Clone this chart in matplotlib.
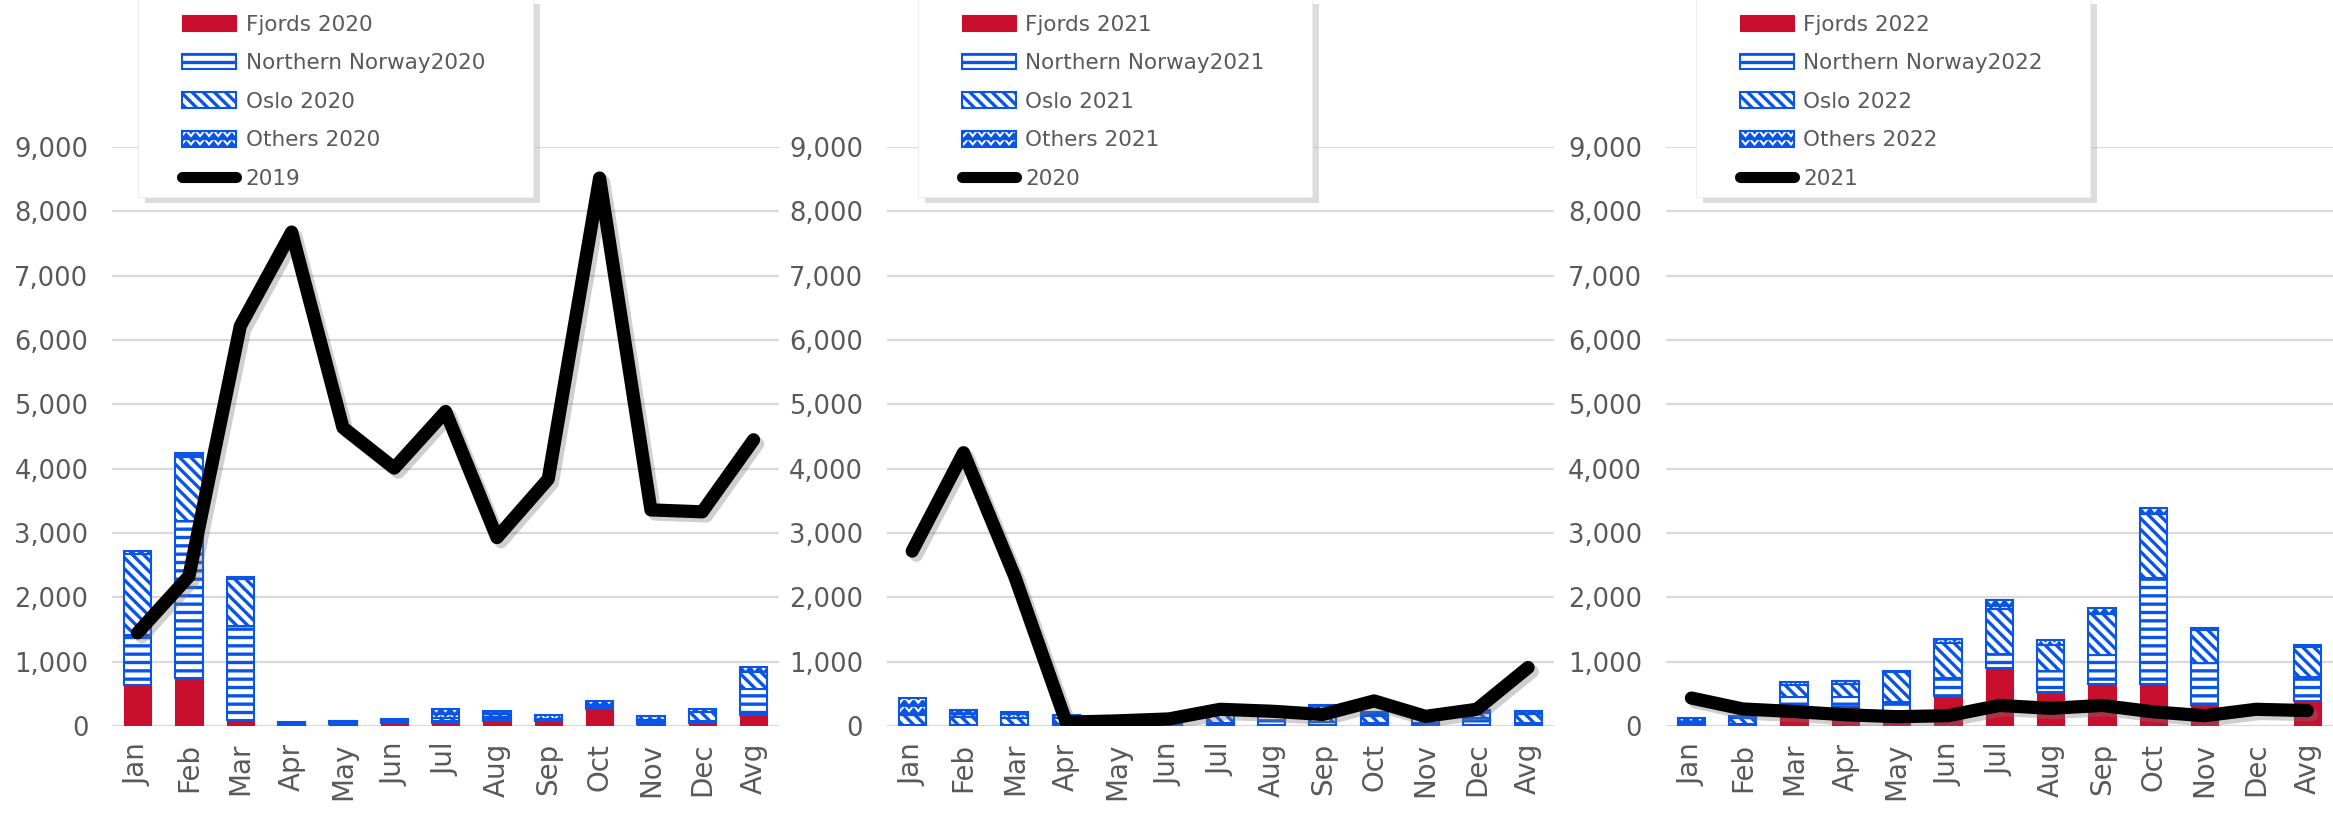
import warnings
warnings.filterwarnings("ignore")
import numpy as np
import matplotlib
matplotlib.use("Agg")
import matplotlib.pyplot as plt
import matplotlib.hatch as mhatch
from matplotlib.path import Path
from matplotlib.patches import Rectangle, Patch
from matplotlib.lines import Line2D
import matplotlib.patheffects as pe

months = ['Jan', 'Feb', 'Mar', 'Apr', 'May', 'Jun', 'Jul', 'Aug', 'Sep', 'Oct', 'Nov', 'Dec', 'Avg']

# Panel 1: bars 2020, line 2019
fjords_2020 = [630, 744, 100, 5, 30, 40, 40, 83, 72, 269, 31, 52, 176]
nn_2020 = [790, 2445, 1460, 10, 20, 30, 40, 30, 20, 30, 30, 30, 403]
oslo_2020 = [1255, 1000, 720, 10, 20, 20, 40, 20, 20, 20, 30, 130, 258]
others_2020 = [50, 60, 40, 35, 13, 24, 138, 94, 64, 74, 59, 46, 78]
line_2019 = [1450, 2330, 6220, 7680, 4640, 4010, 4890, 2930, 3840, 8520, 3360, 3330, 4450]

# Panel 2: bars 2021, line 2020
fjords_2021 = [5, 5, 5, 5, 10, 10, 10, 10, 15, 20, 15, 10, 10]
nn_2021 = [10, 10, 10, 20, 20, 20, 30, 150, 40, 30, 30, 120, 40]
oslo_2021 = [160, 120, 110, 100, 60, 70, 150, 40, 120, 100, 80, 80, 130]
others_2021 = [265, 109, 93, 46, 30, 30, 126, 90, 145, 73, 45, 34, 60]
line_2020 = [2720, 4250, 2320, 60, 80, 110, 260, 230, 180, 390, 150, 260, 910]

# Panel 3: bars 2022, line 2021
fjords_2022 = [0, 15, 290, 300, 210, 466, 900, 528, 657, 657, 321, 0, 383]
nn_2022 = [20, 15, 160, 150, 160, 279, 223, 320, 440, 1645, 662, 0, 377]
oslo_2022 = [20, 100, 190, 210, 470, 548, 698, 419, 646, 993, 502, 0, 466]
others_2022 = [84, 20, 40, 38, 14, 62, 145, 63, 88, 93, 36, 0, 41]
line_2021 = [435, 265, 225, 175, 145, 160, 320, 275, 320, 220, 160, 260, 240]

RED = '#C8102E'
BLUE = '#0A55E6'
TXT = '#595959'
GRID = '#D9D9D9'


class ZigzagHatch(mhatch.HatchPatternBase):
    def __init__(self, hatch, density):
        self.num_rows = int(hatch.count('z') * density)
        self.teeth = 11
        self.n = 2 * self.teeth + 1
        self.num_vertices = self.num_rows * self.n

    def set_vertices_and_codes(self, vertices, codes):
        n = self.n
        xs = np.linspace(0, 1, n)
        step = 1.0 / self.num_rows
        amp = step * 0.33
        offs = np.where(np.arange(n) % 2 == 0, -amp, amp)
        for i in range(self.num_rows):
            y0 = (i + 0.5) * step
            vertices[i * n:(i + 1) * n, 0] = xs
            vertices[i * n:(i + 1) * n, 1] = y0 + offs
            codes[i * n] = Path.MOVETO
            codes[i * n + 1:(i + 1) * n] = Path.LINETO


mhatch._hatch_types.append(ZigzagHatch)

plt.rcParams['font.family'] = ['DejaVu Sans']
plt.rcParams['hatch.linewidth'] = 2.4

W, H = 2333, 813
fig = plt.figure(figsize=(W / 100, H / 100), dpi=100)

panels = [
    (0.048, fjords_2020, nn_2020, oslo_2020, others_2020, line_2019, '2020', '2019', 0.0593),
    (0.380, fjords_2021, nn_2021, oslo_2021, others_2021, line_2020, '2021', '2020', 0.3935),
    (0.714, fjords_2022, nn_2022, oslo_2022, others_2022, line_2021, '2022', '2021', 0.7270),
]

styles = [
    dict(color=RED, edgecolor=RED, linewidth=0.8),
    dict(color='white', edgecolor=BLUE, hatch='--', linewidth=1.5),
    dict(color='white', edgecolor=BLUE, hatch='\\\\\\', linewidth=1.5),
    dict(color='white', edgecolor=BLUE, hatch='zz', linewidth=1.5),
]

x = np.arange(len(months))
for (left, f, n, o, ot, ln, yr, lyr, legx) in panels:
    ax = fig.add_axes([left, 0.107, 0.286, 0.712])
    series = [f, n, o, ot]
    bottom = np.zeros(len(months))
    handles = []
    names = [f'Fjords {yr}', f'Northern Norway{yr}', f'Oslo {yr}', f'Others {yr}']
    for s, st, name in zip(series, styles, names):
        vals = np.array(s, dtype=float)
        bars = ax.bar(x, vals, 0.53, bottom=bottom, zorder=2, **st)
        for b, v in zip(bars, vals):
            if v <= 0:
                b.set_visible(False)
        bottom = bottom + vals
        handles.append(Patch(facecolor=st['color'], edgecolor=st['edgecolor'],
                             hatch=st.get('hatch'), linewidth=st['linewidth'], label=name))
    ax.plot(x, ln, color='black', lw=9.5, zorder=3, solid_joinstyle='round',
            solid_capstyle='round',
            path_effects=[pe.SimpleLineShadow(offset=(3, -3), shadow_color='#777777', alpha=0.35),
                          pe.Normal()])
    handles.append(Line2D([0], [0], color='black', lw=8, solid_capstyle='round', label=lyr))

    ax.set_xlim(-0.5, len(months) - 0.5)
    ax.set_ylim(0, 9000)
    ax.set_yticks(np.arange(0, 9001, 1000))
    ax.set_yticklabels([f'{v:,}' for v in range(0, 9001, 1000)])
    ax.set_xticks(x)
    ax.set_xticklabels(months, rotation=90)
    ax.tick_params(axis='y', length=0, pad=17, labelsize=18.5, labelcolor=TXT)
    ax.tick_params(axis='x', length=0, pad=12, labelsize=20, labelcolor=TXT)
    for sp in ax.spines.values():
        sp.set_visible(False)
    ax.grid(axis='y', color=GRID, lw=1.6, zorder=0)
    ax.set_axisbelow(True)

    # legend background box with shadow
    bw, bh = 0.169, 0.245
    by = 0.758
    fig.patches.append(Rectangle((legx + 0.003, by - 0.008), bw, bh, transform=fig.transFigure,
                                 facecolor='#BBBBBB', edgecolor='none', alpha=0.5, zorder=3.9))
    fig.patches.append(Rectangle((legx, by), bw, bh, transform=fig.transFigure,
                                 facecolor='white', edgecolor='#EEEEEE', lw=0.8, zorder=4))
    leg = fig.legend(handles=handles, loc='upper left', bbox_to_anchor=(legx + 0.016, 0.990),
                     frameon=False, fontsize=15.5, labelcolor=TXT, handlelength=2.5,
                     handleheight=0.75, handletextpad=0.45, labelspacing=0.86,
                     borderpad=0.3, borderaxespad=0)
    leg.set_zorder(5)

fig.savefig('out.png', dpi=100)
